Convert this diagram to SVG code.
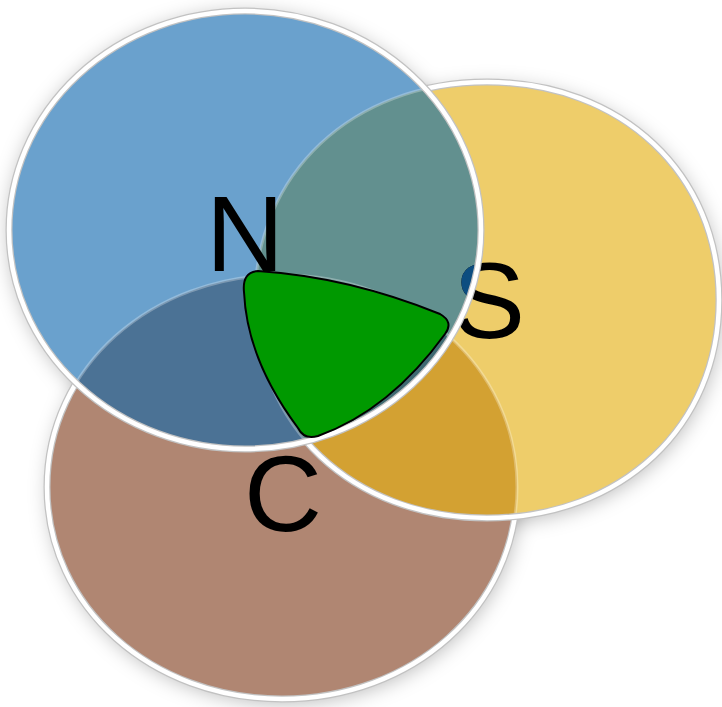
<svg xmlns="http://www.w3.org/2000/svg" width="722" height="707" viewBox="0 0 722 707">
  <style>
    .lbl { font-family: "Liberation Sans", Arial, sans-serif; font-size: 108px; fill: #000; text-anchor: middle; }
    .edgeOuter { fill: none; stroke: #c2c2c2; stroke-width: 7; }
    .edgeInner { fill: none; stroke: #ffffff; stroke-width: 4.5; }
    .edgeFaint { fill: none; stroke: #ffffff; stroke-opacity: 0.28; stroke-width: 3; }
  </style>
  <defs>
    <path id="brownShape" d="M517,487 C517,607.8 411.8,699 282,699 C152.2,699 47,607.8 47,487 C47,366.2 152.2,275 282,275 C411.8,275 517,366.2 517,487 Z"/>
    <path id="yellowShape" d="M719,300 C719,426.4 621.6,518 487,518 C352.4,518 255,426.4 255,300 C255,173.6 352.4,82 487,82 C621.6,82 719,173.6 719,300 Z"/>
    <ellipse id="blueShape" cx="245" cy="230" rx="236" ry="219"/>
    <clipPath id="clipBlue"><use href="#blueShape"/></clipPath>
    <clipPath id="clipYellow"><use href="#yellowShape"/></clipPath>
    <clipPath id="clipBrown"><use href="#brownShape"/></clipPath>
    <mask id="maskOutYB" maskUnits="userSpaceOnUse" x="0" y="0" width="722" height="707">
      <rect x="0" y="0" width="722" height="707" fill="#fff"/>
      <use href="#yellowShape" fill="#000"/>
      <use href="#blueShape" fill="#000"/>
    </mask>
    <mask id="maskOutB" maskUnits="userSpaceOnUse" x="0" y="0" width="722" height="707">
      <rect x="0" y="0" width="722" height="707" fill="#fff"/>
      <use href="#blueShape" fill="#000"/>
    </mask>
    <filter id="soft" x="-20%" y="-20%" width="140%" height="140%">
      <feGaussianBlur stdDeviation="10"/>
    </filter>
  </defs>

  <rect x="0" y="0" width="722" height="707" fill="#ffffff"/>

  <!-- shadows -->
  <g id="shadows" filter="url(#soft)" fill="#000" fill-opacity="0.28">
    <use href="#brownShape" transform="translate(2,4)"/>
    <use href="#yellowShape" transform="translate(2,4)"/>
    <use href="#blueShape" transform="translate(0,2)"/>
  </g>

  <!-- circle C -->
  <g id="circle-C">
    <use href="#brownShape" fill="#b08672"/>
  </g>
  <!-- circle S -->
  <g id="circle-S">
    <use href="#yellowShape" fill="#eecd6a"/>
  </g>
  <!-- circle N -->
  <g id="circle-N">
    <use href="#blueShape" fill="#6aa1cd"/>
  </g>

  <!-- overlaps -->
  <g id="overlaps">
    <use href="#brownShape" fill="#d3a132" clip-path="url(#clipYellow)"/>
    <use href="#brownShape" fill="#4b7295" clip-path="url(#clipBlue)"/>
    <use href="#yellowShape" fill="#62908f" clip-path="url(#clipBlue)"/>
    <g clip-path="url(#clipBlue)">
      <use href="#brownShape" fill="#3f6a72" clip-path="url(#clipYellow)"/>
    </g>
  </g>

  <!-- edges -->
  <g id="edges">
    <use href="#brownShape" class="edgeFaint"/>
    <use href="#yellowShape" class="edgeFaint"/>
    <g mask="url(#maskOutYB)">
      <use href="#brownShape" class="edgeOuter"/>
      <use href="#brownShape" class="edgeInner"/>
    </g>
    <g mask="url(#maskOutB)">
      <use href="#yellowShape" class="edgeOuter"/>
      <use href="#yellowShape" class="edgeInner"/>
    </g>
  </g>

  <g id="label-S">
    <text class="lbl" x="489" y="338">S</text>
    <text class="lbl" x="489" y="338" style="fill:#0c4d80" clip-path="url(#clipBlue)">S</text>
  </g>

  <g id="edge-N">
    <use href="#blueShape" class="edgeOuter"/>
    <use href="#blueShape" class="edgeInner"/>
  </g>

  <g id="center">
    <path d="M258,271 Q349,277 440,314 Q454,322 445,334 Q390,410 318,436 Q304,440 298,428 Q247,360 244,292 Q242,272 258,271 Z" fill="#009900" stroke="#000" stroke-width="2"/>
  </g>

  <g id="label-N"><text class="lbl" x="245" y="271">N</text></g>
  <g id="label-C"><text class="lbl" x="283" y="531">C</text></g>
</svg>
